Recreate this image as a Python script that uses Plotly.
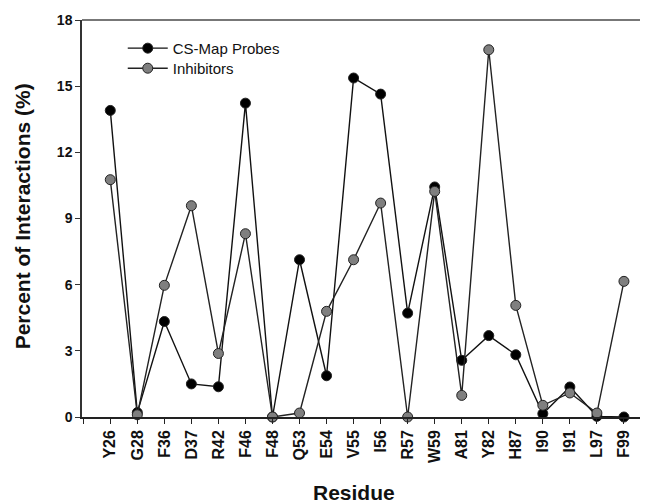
import plotly.graph_objects as go

residues = ["Y26", "G28", "F36", "D37", "R42", "F46", "F48", "Q53", "E54", "V55",
            "I56", "R57", "W59", "A81", "Y82", "H87", "I90", "I91", "L97", "F99"]
cs_map_probes = [13.9, 0.2, 4.33, 1.5, 1.37, 14.23, 0.0, 7.13, 1.87, 15.37,
                 14.64, 4.71, 10.43, 2.57, 3.69, 2.82, 0.15, 1.36, 0.03, 0.0]
inhibitors = [10.76, 0.1, 5.97, 9.58, 2.88, 8.31, 0.0, 0.18, 4.79, 7.13,
              9.7, 0.0, 10.23, 0.98, 16.65, 5.06, 0.53, 1.09, 0.18, 6.15]
y_ticks = [0, 3, 6, 9, 12, 15, 18]

positions = list(range(1, len(residues) + 1))
font_family = "Liberation Sans, Arial, sans-serif"

# page body has an 8px offset; plot area targets screen box x 82..648, y 20..417.3
fig = go.Figure()
fig.add_trace(go.Scatter(
    x=positions, y=cs_map_probes, name="CS-Map Probes", mode="lines+markers",
    line=dict(color="#111111", width=1.4),
    marker=dict(color="#000000", size=10, line=dict(color="#222222", width=1)),
    cliponaxis=False, legend="legend",
))
fig.add_trace(go.Scatter(
    x=positions, y=inhibitors, name="Inhibitors", mode="lines+markers",
    line=dict(color="#222222", width=1.4),
    marker=dict(color="#7f7f7f", size=10, line=dict(color="#222222", width=1)),
    cliponaxis=False, legend="legend2",
))

legend_style = dict(xanchor="left", yanchor="top", bgcolor="rgba(0,0,0,0)",
                    font=dict(size=15, color="#111111"), itemwidth=40)

fig.update_layout(
    width=648, height=504,
    margin=dict(l=74, r=8, t=12, b=94.7),
    paper_bgcolor="white", plot_bgcolor="white",
    font=dict(family=font_family, color="#111111", size=13),
    showlegend=True,
    legend=dict(x=0.072, y=0.970, **legend_style),
    legend2=dict(x=0.072, y=0.9195, **legend_style),
    xaxis=dict(
        range=[-0.046, 20.89], tickmode="array",
        tickvals=[0] + positions, ticktext=[""] + residues,
        tickangle=-90, ticks="outside", ticklen=5, tickwidth=1.2, tickcolor="#222222",
        showline=True, linecolor="#222222", linewidth=1.5,
        showgrid=False, zeroline=False, automargin=False,
        tickfont=dict(size=16, color="#111111", weight="bold"),
    ),
    yaxis=dict(
        range=[0, 18], tickmode="array", tickvals=y_ticks,
        ticks="outside", ticklen=5, tickwidth=1.2, tickcolor="#333333",
        showline=True, linecolor="#333333", linewidth=1.5,
        showgrid=False, zeroline=False, automargin=False,
        tickfont=dict(size=14, color="#111111", weight="bold"),
    ),
    shapes=[dict(type="line", xref="paper", yref="paper", x0=0, x1=1, y0=1, y1=1,
                 line=dict(color="#777777", width=2))],
    annotations=[
        dict(text="<b>Residue</b>", xref="paper", yref="paper",
             x=(354 - 82) / 566, y=-(493 - 417.3) / 397.3,
             xanchor="center", yanchor="middle", showarrow=False,
             font=dict(size=21, color="#111111")),
        dict(text="<b>Percent of Interactions (%)</b>", xref="paper", yref="paper",
             x=-(82 - 22) / 566, y=(417.3 - 216.5) / 397.3,
             xanchor="center", yanchor="middle", showarrow=False, textangle=-90,
             font=dict(size=21, color="#111111")),
    ],
)

fig.write_html("out.html")
